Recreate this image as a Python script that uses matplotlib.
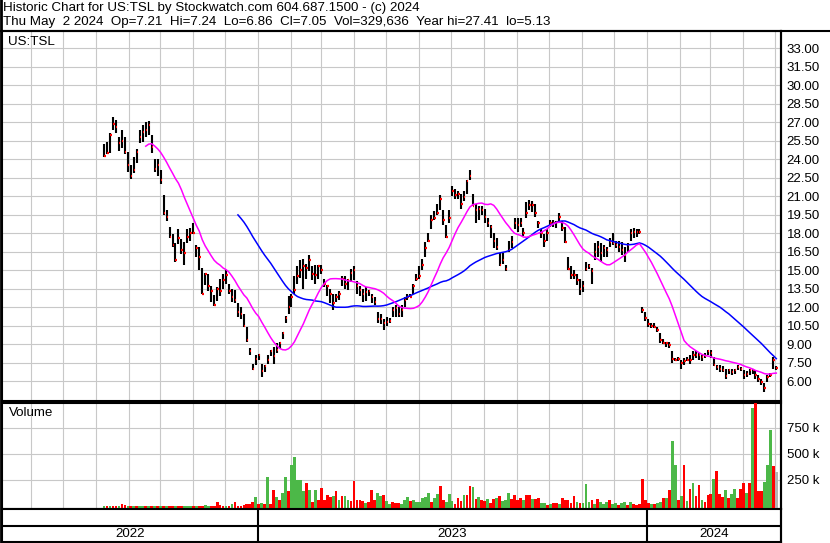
import numpy as np
import pandas as pd
import matplotlib
matplotlib.use('Agg')
import matplotlib.pyplot as plt
import matplotlib.dates as mdates
from matplotlib.lines import Line2D

plt.rcParams['font.family'] = ['Liberation Sans', 'DejaVu Sans']

# every bar stands for two trading days, Aug 2022 .. May 2 2024
close = [
    24.3, 24.5, 26.0, 26.9, 26.6, 25.3, 25.5, 24.6, 23.5, 22.6,
    23.1, 24.6, 25.8, 26.2, 26.4, 26.8, 25.0, 23.2, 23.5, 22.3,
    19.6, 19.3, 17.7, 17.0, 15.8, 17.6, 16.6, 16.4, 17.7, 18.0,
    18.0, 16.8, 16.1, 13.1, 14.7, 13.7, 13.3, 12.2, 13.5, 13.3,
    14.2, 14.6, 13.3, 12.8, 12.6, 11.6, 11.4, 10.5, 9.3, 8.4,
    7.0, 7.8, 8.1, 6.8, 7.2, 7.7, 8.4, 8.0, 8.5, 9.1,
    9.9, 11.1, 12.0, 12.8, 13.4, 14.5, 15.0, 15.3, 15.2, 15.8,
    14.7, 14.6, 15.3, 15.0, 13.9, 13.7, 13.1, 12.3, 12.85, 13.1,
    14.3, 13.9, 14.2, 14.8, 15.0, 13.7, 13.4, 13.1, 13.2, 13.3,
    12.85, 12.4, 11.0, 11.0, 10.7, 10.8, 10.9, 11.8, 11.9, 11.4,
    11.8, 12.6, 12.85, 12.85, 13.7, 14.3, 14.5, 15.4, 16.8, 17.4,
    19.1, 19.2, 19.6, 20.8, 19.1, 17.7, 19.2, 21.4, 21.1, 21.2,
    20.4, 20.96, 22.2, 22.6, 20.2, 19.9, 20.0, 19.9, 19.3, 18.8,
    18.5, 17.4, 16.9, 15.4, 15.8, 15.1, 16.6, 17.3, 18.8, 18.7,
    18.8, 18.0, 19.6, 20.3, 20.3, 19.6, 18.8, 18.0, 17.4, 18.0,
    18.8, 18.8, 18.9, 19.3, 18.4, 17.3, 15.1, 14.6, 14.6, 14.2,
    13.5, 13.7, 15.1, 15.3, 14.9, 16.5, 16.9, 16.4, 16.8, 16.6,
    17.3, 17.2, 17.0, 16.9, 16.6, 16.2, 17.0, 18.0, 18.1, 18.1,
    18.1, 11.8, 11.1, 10.6, 10.5, 10.4, 10.1, 9.3, 9.1, 9.1,
    8.9, 7.8, 7.7, 7.8, 7.44, 7.6, 7.7, 7.7, 8.1, 8.1,
    8.1, 7.98, 8.0, 8.4, 8.25, 7.3, 7.17, 6.95, 6.9, 6.4,
    6.9, 6.76, 6.9, 7.17, 7.0, 6.5, 6.6, 6.9, 6.9, 6.5,
    6.2, 5.95, 5.4, 6.35, 6.5, 7.7, 7.05,
]
high = [
    25.2, 25.4, 26.1, 27.46, 27.2, 25.8, 26.4, 25.8, 24.6, 23.5,
    24.2, 24.8, 26.4, 26.8, 27.0, 27.1, 26.0, 24.0, 24.0, 23.1,
    21.1, 19.9, 18.5, 17.9, 17.2, 18.3, 17.5, 17.3, 18.3, 18.4,
    18.8, 17.0, 16.9, 15.2, 14.8, 14.7, 13.7, 13.0, 13.6, 14.3,
    14.7, 15.0, 13.9, 13.5, 13.4, 12.3, 12.0, 11.4, 10.4, 8.7,
    7.4, 8.1, 8.2, 7.4, 7.3, 8.1, 8.5, 8.8, 9.1, 9.2,
    10.0, 11.3, 12.9, 13.1, 14.5, 15.3, 15.8, 15.9, 15.5, 16.2,
    15.3, 15.4, 15.4, 15.4, 14.3, 13.8, 13.5, 13.1, 13.1, 13.3,
    14.5, 14.5, 14.3, 15.1, 15.3, 14.1, 13.7, 13.5, 13.6, 13.4,
    13.1, 12.8, 11.6, 11.4, 11.0, 11.2, 11.1, 12.0, 12.2, 12.0,
    12.2, 12.8, 13.1, 13.1, 13.9, 14.7, 15.3, 15.9, 17.3, 18.0,
    19.5, 19.8, 20.4, 21.1, 19.9, 18.7, 19.9, 21.8, 21.6, 21.4,
    21.2, 21.4, 22.3, 23.1, 21.2, 20.4, 20.2, 20.2, 20.0, 19.2,
    18.7, 18.0, 17.6, 16.4, 16.4, 15.4, 17.4, 17.8, 19.2, 19.2,
    19.2, 18.4, 20.5, 20.7, 20.6, 20.4, 19.0, 18.3, 17.9, 18.3,
    19.1, 19.1, 19.0, 19.6, 19.0, 18.5, 16.1, 15.3, 15.0, 14.7,
    14.3, 14.1, 15.7, 15.5, 15.2, 17.2, 17.4, 17.2, 17.0, 16.9,
    17.6, 18.0, 17.4, 17.4, 17.3, 16.9, 17.2, 18.3, 18.4, 18.3,
    18.3, 12.0, 11.6, 11.0, 10.7, 10.7, 10.4, 9.9, 9.4, 9.2,
    9.2, 8.4, 7.9, 7.98, 7.7, 7.85, 7.98, 8.1, 8.4, 8.4,
    8.25, 8.1, 8.25, 8.5, 8.5, 7.98, 7.3, 7.3, 7.2, 7.0,
    7.0, 7.0, 7.0, 7.3, 7.17, 6.9, 6.8, 7.0, 7.0, 6.9,
    6.5, 6.2, 5.8, 6.5, 6.62, 7.98, 7.24,
]
low = [
    24.2, 24.4, 24.5, 26.4, 26.1, 24.7, 24.9, 24.4, 23.0, 22.4,
    22.9, 23.7, 25.3, 25.4, 25.8, 26.0, 24.5, 23.0, 22.6, 22.0,
    19.5, 19.0, 17.6, 16.9, 15.7, 17.1, 16.3, 15.4, 17.2, 17.4,
    17.9, 16.1, 15.0, 13.1, 13.8, 13.3, 12.4, 12.1, 12.5, 12.9,
    13.5, 13.9, 13.1, 12.4, 12.3, 11.2, 11.0, 10.4, 9.2, 8.1,
    6.9, 7.3, 7.7, 6.35, 6.7, 7.4, 8.0, 7.4, 8.3, 8.6,
    9.4, 10.7, 11.4, 12.0, 13.1, 13.9, 14.4, 13.5, 14.3, 14.9,
    14.2, 13.9, 14.3, 14.7, 13.6, 12.9, 12.3, 11.8, 12.4, 12.6,
    13.7, 13.5, 13.4, 14.0, 14.2, 13.1, 12.9, 12.4, 12.5, 12.9,
    12.3, 12.2, 10.7, 10.6, 10.1, 10.5, 10.7, 11.2, 11.2, 11.2,
    11.2, 12.0, 12.6, 12.8, 13.1, 14.1, 14.3, 15.0, 16.1, 17.3,
    18.3, 19.1, 19.5, 19.9, 18.7, 17.6, 18.8, 21.0, 20.8, 20.8,
    20.0, 20.6, 21.2, 22.3, 20.2, 18.8, 19.1, 19.5, 18.8, 18.5,
    17.6, 16.8, 16.6, 15.3, 15.5, 14.9, 16.5, 16.8, 18.3, 18.1,
    18.5, 17.8, 19.2, 19.9, 19.7, 19.3, 18.4, 17.6, 16.9, 17.4,
    18.5, 18.5, 18.4, 18.8, 18.2, 17.2, 15.0, 14.3, 14.3, 13.8,
    13.0, 13.2, 14.9, 15.1, 13.9, 15.8, 16.1, 15.7, 16.1, 16.1,
    16.9, 17.0, 16.8, 16.5, 16.2, 15.7, 16.5, 17.4, 17.6, 17.7,
    17.9, 11.5, 10.9, 10.4, 10.3, 10.3, 10.0, 9.1, 9.0, 8.8,
    8.7, 7.5, 7.6, 7.6, 7.0, 7.3, 7.6, 7.4, 7.7, 7.85,
    7.7, 7.6, 7.85, 8.1, 7.85, 7.2, 6.9, 6.75, 6.7, 6.2,
    6.6, 6.5, 6.6, 6.9, 6.8, 6.2, 6.35, 6.5, 6.6, 6.2,
    5.95, 5.7, 5.13, 5.95, 6.35, 7.0, 6.86,
]
# volume in thousands of shares
volume_k = [
    2, 2, 3, 2, 3, 2, 19, 12, 3, 2,
    2, 2, 2, 2, 2, 3, 3, 2, 2, 2,
    2, 2, 3, 2, 2, 2, 3, 2, 3, 3,
    2, 2, 2, 2, 8, 2, 2, 2, 38, 10,
    2, 2, 2, 15, 38, 2, 2, 12, 19, 15,
    35, 86, 20, 30, 20, 279, 20, 150, 85, 60,
    125, 279, 144, 394, 471, 246, 246, 144, 221, 150,
    40, 150, 60, 173, 55, 102, 86, 100, 147, 60,
    96, 96, 55, 45, 240, 60, 60, 45, 30, 40,
    150, 60, 125, 96, 105, 50, 15, 40, 30, 30,
    20, 60, 83, 50, 60, 40, 40, 77, 86, 121,
    40, 77, 112, 189, 60, 40, 115, 45, 20, 77,
    45, 109, 109, 189, 182, 67, 86, 60, 48, 67,
    30, 70, 73, 99, 45, 60, 125, 70, 102, 55,
    75, 55, 102, 105, 70, 63, 73, 30, 30, 10,
    20, 30, 30, 15, 73, 55, 60, 30, 99, 35,
    30, 25, 211, 35, 60, 20, 67, 40, 15, 40,
    60, 15, 30, 5, 25, 40, 5, 35, 15, 10,
    20, 256, 60, 30, 15, 20, 30, 35, 80, 80,
    150, 625, 394, 60, 93, 394, 50, 163, 221, 96,
    202, 60, 40, 106, 115, 259, 336, 115, 86, 150,
    77, 118, 163, 77, 163, 221, 125, 221, 945, 1050,
    144, 144, 231, 394, 734, 381, 330,
]
volume_dir = ("grgrrgrrgr" "grggrgrgrg" "rgrrgrrggg" "rgrrggrrrr" "rgrgrrrrrr"
              "rgrgrgrrgr" "ggrgggggrg" "rgrrrrrgrg" "rggrrrrrgr" "rrggrggrrr"
              "gggrgggggg" "rggrrgggrr" "rgrrgrgrrg" "rrgrgggrrr" "rgrrgrrggr"
              "grrgrrrrrg" "rgggrgrggg" "rggrggrgrr" "rrrrgrggrg" "rggrgrgrgr"
              "rgrrrgrrrg" "rggrrrgrgr" "rrgggrk")

price_ticks = np.arange(6.0, 33.01, 1.5)
volume_ticks = [250, 500, 750]
years = ['2022', '2023', '2024']
title1 = 'Historic Chart for US:TSL by Stockwatch.com 604.687.1500 - (c) 2024'
title2 = ('Thu May  2 2024  Op=7.21  Hi=7.24  Lo=6.86  Cl=7.05  Vol=329,636  '
          'Year hi=27.41  lo=5.13')

dates = pd.date_range('2022-08-09', '2024-05-02', periods=len(close))
x = mdates.date2num(dates)
close_s = pd.Series(close)
ma_short = close_s.rolling(15).mean()
ma_long = close_s.rolling(46).mean()

xmin = mdates.date2num(pd.Timestamp('2022-05-05'))
xmax = mdates.date2num(pd.Timestamp('2024-05-06 10:00'))
year_edges = [xmin] + [mdates.date2num(pd.Timestamp(y + '-01-01')) for y in years[1:]] + [xmax]

W, H = 830, 543
fig = plt.figure(figsize=(W / 100, H / 100), dpi=100)


def box(left, top, right, bottom):
    return [left / W, 1 - bottom / H, (right - left) / W, (bottom - top) / H]


grid_kw = dict(color='#c8c8c8', lw=0.8)
fs = 9.5
tfs = 9.6

ax = fig.add_axes(box(2, 31, 781, 401))
ax.vlines(x, low, high, color='black', lw=1.5, zorder=3)
ax.hlines(close, x, x + 1.4, color='#ff0000', lw=1.6, zorder=4)
ax.plot(x, ma_long, color='#0000ff', lw=1.1, zorder=5)
ax.plot(x, ma_short, color='#ff00ff', lw=1.1, zorder=5)
ax.set_xlim(xmin, xmax)
ax.set_ylim(4.377, 34.41)
ax.set_yticks(price_ticks)
ax.set_yticklabels(['%.2f' % v for v in price_ticks])
ax.yaxis.tick_right()
ax.xaxis.set_major_locator(mdates.MonthLocator())
ax.tick_params(axis='x', length=0, labelbottom=False)
ax.tick_params(axis='y', length=0, pad=4, labelsize=fs)
ax.grid(True, **grid_kw)
ax.set_axisbelow(True)
ax.text(6 / 779, 1 - 11 / 370, 'US:TSL', transform=ax.transAxes, fontsize=tfs, va='center')

vol_floor = -28.8
axv = fig.add_axes(box(2, 403, 781, 509))
vcolors = {'g': '#4cb848', 'r': '#ff0000', 'k': '#b4b4b4'}
axv.bar(x, np.array(volume_k) - vol_floor, bottom=vol_floor, width=2.6,
        color=[vcolors[c] for c in volume_dir], zorder=3)
axv.set_xlim(xmin, xmax)
axv.set_ylim(vol_floor, 990)
axv.set_yticks(volume_ticks)
axv.set_yticklabels(['%d k' % v for v in volume_ticks])
axv.yaxis.tick_right()
axv.xaxis.set_major_locator(mdates.MonthLocator())
axv.tick_params(axis='x', length=0, labelbottom=False)
axv.tick_params(axis='y', length=0, pad=4, labelsize=fs)
axv.grid(True, **grid_kw)
axv.set_axisbelow(True)
axv.text(7 / 779, 1 - 10 / 106, 'Volume', transform=axv.transAxes, fontsize=tfs, va='center')

axy = fig.add_axes(box(2, 509, 781, 542))
axy.set_xlim(xmin, xmax)
axy.set_ylim(0, 1)
axy.axhline(0.5, color='black', lw=1.5)
axy.vlines(year_edges[1:-1], 0, 1, color='black', lw=1.5)
for i, label in enumerate(years):
    axy.text((year_edges[i] + year_edges[i + 1]) / 2, 0.24, label,
             ha='center', va='center', fontsize=tfs)
axy.set_xticks([])
axy.set_yticks([])

for a in (ax, axv, axy):
    for s in a.spines.values():
        s.set_linewidth(1.5)
        s.set_color('black')

fig.add_artist(Line2D([0, 1], [1 - 31 / H] * 2, transform=fig.transFigure, color='black', lw=1.5))
fig.add_artist(Line2D([1 / W] * 2, [0, 1], transform=fig.transFigure, color='black', lw=2))
fig.add_artist(Line2D([781 / W] * 2, [1 - 31 / H, 1 / H], transform=fig.transFigure, color='black', lw=1.5))

fig.text(3 / W, 1 - 8 / H, title1, fontsize=tfs, va='center')
fig.text(3 / W, 1 - 22 / H, title2, fontsize=tfs, va='center')

fig.savefig('out.png', dpi=100, facecolor='white')
